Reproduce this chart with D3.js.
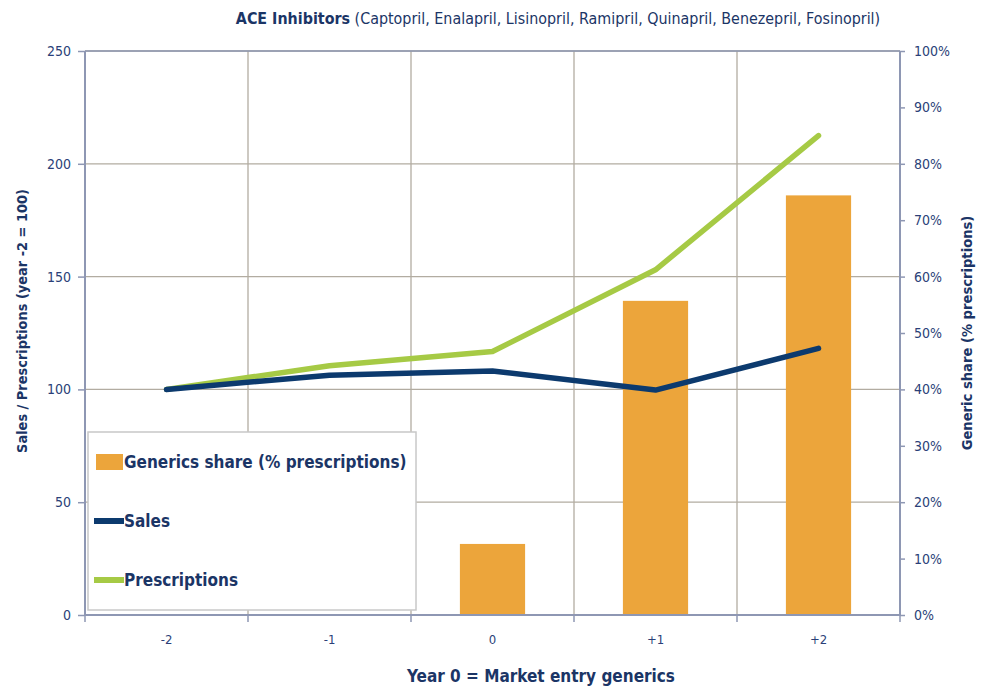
<!DOCTYPE html>
<html><head><meta charset="utf-8">
<script src="https://cdn.jsdelivr.net/npm/d3@7"></script>
<style>
body{margin:0;background:#fff;}
text{font-family:"DejaVu Sans Condensed","Liberation Sans Narrow","Roboto",sans-serif;}
</style></head>
<body><svg id="c" width="988" height="686"></svg>
<script>
const categories = ["-2","-1","0","+1","+2"];
const sales = [100, 106.3, 108.2, 99.7, 118.2];
const prescriptions = [100, 110.5, 116.8, 153, 212.5];
const genericShare = [null, null, 12.6, 55.7, 74.4];
const leftTicks = [0,50,100,150,200,250];
const rightTicks = [0,10,20,30,40,50,60,70,80,90,100];

const navy = "#0c3a6e", green = "#a6ca45", orange = "#eca53b";
const textCol = "#2b3f78", axisCol = "#8e97b3", gridCol = "#b2aca1";
const FF = '"DejaVu Sans Condensed","Liberation Sans Narrow",sans-serif';

const svg = d3.select("#c");
const L = 85, R = 900, T = 51, B = 615;
const x = d3.scaleBand().domain(categories).range([L, R]).paddingInner(0).paddingOuter(0);
const yL = d3.scaleLinear().domain([0,250]).range([B, T]);
const yR = d3.scaleLinear().domain([0,100]).range([B, T]);

// gridlines
const g = svg.append("g");
g.selectAll("line.h").data(leftTicks.filter(d=>d>0)).join("line")
  .attr("x1", L).attr("x2", R).attr("y1", d=>yL(d)).attr("y2", d=>yL(d))
  .attr("stroke", gridCol).attr("stroke-width", 1.3);
const bounds = categories.map(c=>x(c)).concat([R]);
g.selectAll("line.v").data(bounds.slice(1, -1)).join("line")
  .attr("x1", d=>d).attr("x2", d=>d).attr("y1", T).attr("y2", B)
  .attr("stroke", gridCol).attr("stroke-width", 1.3);

// bars
svg.append("g").selectAll("rect").data(categories.map((c,i)=>({c, v:genericShare[i]})).filter(d=>d.v!=null))
  .join("rect")
  .attr("x", d=>x(d.c)+x.bandwidth()*0.3).attr("width", x.bandwidth()*0.4)
  .attr("y", d=>yR(d.v)).attr("height", d=>B-yR(d.v))
  .attr("fill", orange);

// lines
const line = d3.line().x((d,i)=>x(categories[i])+x.bandwidth()/2).y(d=>yL(d));
svg.append("path").datum(prescriptions).attr("d", line).attr("fill","none")
  .attr("stroke", green).attr("stroke-width", 5.5).attr("stroke-linecap","round").attr("stroke-linejoin","round");
svg.append("path").datum(sales).attr("d", line).attr("fill","none")
  .attr("stroke", navy).attr("stroke-width", 5.5).attr("stroke-linecap","round").attr("stroke-linejoin","round");

// axes
const axL = svg.append("g").attr("transform", `translate(${L},0)`)
  .call(d3.axisLeft(yL).tickValues(leftTicks).tickSize(7).tickPadding(7));
const axR = svg.append("g").attr("transform", `translate(${R},0)`)
  .call(d3.axisRight(yR).tickValues(rightTicks).tickFormat(d=>d+"%").tickSize(5).tickPadding(9));
const axB = svg.append("g").attr("transform", `translate(0,${B})`)
  .call(d3.axisBottom(x).tickSize(0).tickPadding(20));
// x boundary ticks
svg.append("g").selectAll("line").data(bounds).join("line")
  .attr("x1", d=>d).attr("x2", d=>d).attr("y1", B).attr("y2", B+7)
  .attr("stroke", axisCol).attr("stroke-width", 1.5);
[axL, axR, axB].forEach(a=>{
  a.selectAll(".domain").attr("stroke", axisCol).attr("stroke-width", 2);
  a.selectAll(".tick line").attr("stroke", axisCol).attr("stroke-width", 1.5);
  a.selectAll("text").attr("fill", textCol).attr("font-size", 14).attr("font-family", FF);
});
axB.selectAll("text").attr("font-size", 13);
axL.select(".domain").attr("d", `M0,${T}V${B}`);
axR.select(".domain").attr("d", `M0,${T}V${B}`);
axB.select(".domain").attr("d", `M${L},0H${R}`);
svg.append("line").attr("x1", L).attr("x2", R).attr("y1", T).attr("y2", T).attr("stroke", axisCol).attr("stroke-width", 1.3);

// title
const title = svg.append("text").attr("x", 558).attr("y", 24).attr("text-anchor","middle")
  .attr("font-size", 15.9).attr("fill", "#1b3566");
title.append("tspan").attr("font-weight","bold").text("ACE Inhibitors");
title.append("tspan").text(" (Captopril, Enalapril, Lisinopril, Ramipril, Quinapril, Benezepril, Fosinopril)");

// axis titles
svg.append("text").attr("transform","translate(27,321) rotate(-90)").attr("text-anchor","middle")
  .attr("font-size", 14.4).attr("font-weight","bold").attr("fill","#1b3566")
  .text("Sales / Prescriptions (year -2 = 100)");
svg.append("text").attr("transform","translate(972,333) rotate(-90)").attr("text-anchor","middle")
  .attr("font-size", 14.6).attr("font-weight","bold").attr("fill","#1b3566")
  .text("Generic share (% prescriptions)");
svg.append("text").attr("x", 541).attr("y", 682).attr("text-anchor","middle")
  .attr("font-size", 17).attr("font-weight","bold").attr("fill","#1b3566")
  .text("Year 0 = Market entry generics");

// legend
const lg = svg.append("g");
lg.append("rect").attr("x", 88).attr("y", 432).attr("width", 328).attr("height", 178)
  .attr("fill", "#fff").attr("stroke", "#c8c8c8").attr("stroke-width", 1.5);
const legendItems = [
  {name:"Generics share (% prescriptions)", type:"bar", color:orange, y:462},
  {name:"Sales", type:"line", color:navy, y:521},
  {name:"Prescriptions", type:"line", color:green, y:580}
];
legendItems.forEach(d=>{
  if (d.type==="bar") lg.append("rect").attr("x", 96).attr("y", d.y-8).attr("width", 27).attr("height", 16).attr("fill", d.color);
  else lg.append("line").attr("x1", 94).attr("x2", 124).attr("y1", d.y).attr("y2", d.y).attr("stroke", d.color).attr("stroke-width", 6);
  lg.append("text").attr("x", 124).attr("y", d.y+6).attr("font-size", 17).attr("font-weight","bold")
    .attr("fill", "#1b3566").text(d.name);
});
</script></body></html>
